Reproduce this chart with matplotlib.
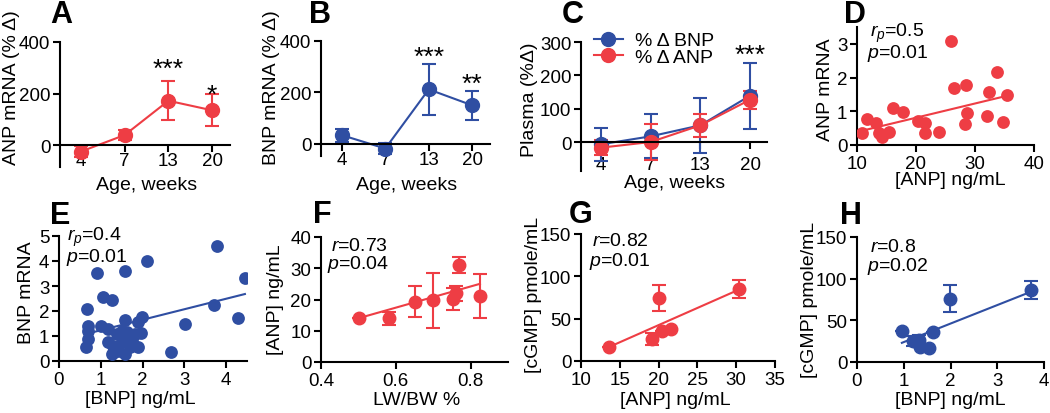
import numpy as np
import matplotlib ; matplotlib.use('Agg')
from matplotlib import pyplot as plt
from matplotlib.lines import Line2D

plt.rcParams['font.family'] = ['Liberation Sans', 'DejaVu Sans']
plt.rcParams['font.size'] = 13
plt.rcParams['mathtext.fontset'] = 'custom'
plt.rcParams['mathtext.it'] = 'Liberation Sans:italic'
plt.rcParams['mathtext.rm'] = 'Liberation Sans'
plt.rcParams['axes.linewidth'] = 1.5
for a in ('xtick', 'ytick'):
    plt.rcParams[a + '.major.width'] = 1.5
    plt.rcParams[a + '.major.size'] = 5
    plt.rcParams[a + '.major.pad'] = 2
    plt.rcParams[a + '.labelsize'] = 13.5

RED = '#EE3D44'
BLUE = '#2F4EA2'

# ---- data ----
weeks = ['4', '7', '13', '20']
anp_mrna = [-25, 39, 172, 135]
anp_mrna_err = [20, 19, 76, 62]
bnp_mrna = [34, -18, 212, 150]
bnp_mrna_err = [25, 20, 99, 57]
plasma_bnp = [-7, 17, 50, 139]
plasma_bnp_err = [49, 66, 82, 99]
plasma_anp = [-17, 0, 50, 127]
plasma_anp_err = [22, 53, 35, 27]

# D: plasma ANP vs ANP mRNA
d_anp = [10.9, 11.7, 13.3, 13.7, 14.2, 15.5, 16.1, 17.8, 20.4, 21.6, 21.6, 23.9,
         25.9, 26.4, 28.4, 28.6, 28.3, 32.1, 32.3, 33.7, 34.8, 35.4]
d_mrna = [0.35, 0.78, 0.65, 0.35, 0.25, 0.39, 1.11, 0.99, 0.72, 0.65, 0.35, 0.39,
          3.07, 1.70, 1.78, 0.94, 0.63, 0.86, 1.58, 2.17, 0.69, 1.49]
fit_d = (0.0422, -0.035)

# E: plasma BNP vs BNP mRNA
e_bnp = [0.92, 1.58, 2.10, 3.78, 4.45, 0.68, 1.06, 1.26, 3.72, 4.28, 3.02, 2.69,
         0.70, 0.70, 0.70, 0.65, 1.00, 1.17, 1.58, 1.98, 1.90, 1.50, 1.62, 1.38,
         1.82, 1.96, 1.18, 1.30, 1.50, 1.74, 1.90, 1.42, 1.58, 1.26, 1.70]
e_mrna = [3.51, 3.60, 4.00, 4.60, 3.32, 2.10, 2.55, 2.45, 2.23, 1.73, 1.47, 0.36,
          1.41, 1.21, 0.88, 0.55, 1.41, 1.28, 1.65, 1.75, 1.55, 1.21, 1.15, 1.08,
          1.08, 1.11, 0.75, 0.61, 0.75, 0.81, 0.55, 0.41, 0.28, 0.28, 0.55]
fit_e = (0.42, 0.81)

# F: LW/BW vs plasma ANP
f_lwbw = [0.502, 0.582, 0.652, 0.700, 0.752, 0.762, 0.770, 0.825]
f_anp = [14.0, 14.0, 19.3, 19.8, 20.2, 22.0, 31.0, 21.2]
f_err = [0.0, 2.0, 5.0, 8.8, 3.5, 2.4, 2.5, 7.0]
fit_f = (33.9, -2.95)

# G: plasma ANP vs cGMP
g_anp = [13.6, 19.2, 20.4, 21.6, 20.1, 30.4]
g_cgmp = [16.1, 25.5, 35.7, 37.7, 74.2, 84.8]
g_err = [0.0, 7.0, 0.0, 0.0, 15.7, 10.8]
fit_g = (4.05, -38.6)

# H: plasma BNP vs cGMP
h_bnp = [0.96, 1.63, 1.20, 1.33, 1.35, 1.53, 1.99, 3.72]
h_cgmp = [37.4, 36.2, 25.0, 27.0, 17.5, 16.3, 76.0, 86.3]
h_err = [0.0, 0.0, 6.0, 6.0, 0.0, 0.0, 16.0, 10.5]
fit_h = (22.2, 1.7)

W, H = 1050, 414
fig = plt.figure(figsize=(W / 100, H / 100), dpi=100)


def add_ax(l, t, r, b):
    ax = fig.add_axes([l / W, 1 - b / H, (r - l) / W, (b - t) / H])
    ax.spines['top'].set_visible(False)
    ax.spines['right'].set_visible(False)
    ax.patch.set_alpha(0)
    return ax


def ftext(x, y, s, **kw):
    fig.text(x / W, 1 - y / H, s, **kw)


def panel_label(x, y, s):
    ftext(x, y, s, ha='center', va='center', fontsize=22, fontweight='bold')


def ylab(x, y, s):
    ftext(x, y, s, rotation=90, ha='center', va='center', fontsize=14)


def xlab(x, y, s):
    ftext(x, y, s, ha='center', va='center', fontsize=14)


def stat(x, y, s):
    ftext(x, y, s, ha='left', va='center', fontsize=14)


def time_course(ax, ylo, yhi, yticks):
    ax.spines['bottom'].set_position(('data', 0))
    ax.set_xlim(-0.48, 3.41)
    ax.set_ylim(ylo, yhi)
    ax.set_xticks(range(4))
    ax.set_xticklabels(weeks)
    ax.set_yticks(yticks)


def fit_line(ax, xs, fit, color):
    xx = np.array([min(xs), max(xs)])
    ax.plot(xx, fit[0] * xx + fit[1], color=color, lw=1.5, zorder=2)


ebkw = dict(marker='o', lw=1.5, elinewidth=1.5, capsize=5, capthick=1.5)
pos = np.arange(4)

# ---- A ----
ax = add_ax(60, 43, 230, 168)
time_course(ax, -85, 400, [0, 200, 400])
ax.tick_params(axis='x', pad=0)
ax.errorbar(pos, anp_mrna, yerr=anp_mrna_err, color=RED, ms=10, **ebkw)
ax.text(2, 296, '***', ha='center', va='center', fontsize=19)
ax.text(3, 196, '*', ha='center', va='center', fontsize=19)
panel_label(61, 15, 'A')
ylab(12, 88, 'ANP mRNA (% Δ)')
xlab(147, 186, 'Age, weeks')

# ---- B ----
ax = add_ax(321, 42, 490, 157)
time_course(ax, -47, 400, [0, 200, 400])
ax.tick_params(axis='x', pad=0)
ax.errorbar(pos, bnp_mrna, yerr=bnp_mrna_err, color=BLUE, ms=10, **ebkw)
ax.text(2, 340, '***', ha='center', va='center', fontsize=19)
ax.text(3, 235, '**', ha='center', va='center', fontsize=19)
panel_label(320, 15, 'B')
ylab(272, 88, 'BNP mRNA (% Δ)')
xlab(407, 186, 'Age, weeks')

# ---- C ----
ax = add_ax(581, 43, 767, 172)
time_course(ax, -87, 300, [0, 100, 200, 300])
ax.set_xlim(-0.4, 3.34)
ax.tick_params(axis='x', pad=5)
ax.errorbar(pos, plasma_bnp, yerr=plasma_bnp_err, color=BLUE, ms=10, **ebkw)
ax.errorbar(pos, plasma_anp, yerr=plasma_anp_err, color=RED, ms=10, **ebkw)
ax.text(3, 262, '***', ha='center', va='center', fontsize=19)
handles = [Line2D([], [], color=BLUE, marker='o', ms=10, lw=1.5),
           Line2D([], [], color=RED, marker='o', ms=10, lw=1.5)]
fig.legend(handles, ['% Δ BNP', '% Δ ANP'], loc='upper left',
           bbox_to_anchor=(586 / W, 1 - 25 / H), frameon=False, fontsize=14,
           handlelength=1.5, handletextpad=0.6, labelspacing=-0.05, borderaxespad=0)
panel_label(573, 15, 'C')
ylab(530, 100, 'Plasma (%Δ)')
xlab(675, 184, 'Age, weeks')

# ---- D ----
ax = add_ax(857, 28, 1034, 146)
ax.set_xlim(10, 40)
ax.set_ylim(0, 3.5)
ax.set_xticks([10, 20, 30, 40])
ax.set_yticks([0, 1, 2, 3])
fit_line(ax, d_anp, fit_d, RED)
ax.scatter(d_anp, d_mrna, s=85, color=RED, zorder=3, linewidths=0)
panel_label(855, 15, 'D')
stat(870, 33, r'$r_p$=0.5')
stat(867, 53, r'$p$=0.01')
ylab(826, 90, 'ANP mRNA')
xlab(950, 181, '[ANP] ng/mL')

# ---- E ----
ax = add_ax(59, 237, 247, 362)
ax.set_xlim(0, 4.5)
ax.set_ylim(0, 5)
ax.set_xticks([0, 1, 2, 3, 4])
ax.set_yticks([0, 1, 2, 3, 4, 5])
fit_line(ax, e_bnp, fit_e, BLUE)
ax.scatter(e_bnp, e_mrna, s=85, color=BLUE, zorder=3, linewidths=0)
panel_label(60, 216, 'E')
stat(67, 237, r'$r_p$=0.4')
stat(66, 258, r'$p$=0.01')
ylab(27, 293, 'BNP mRNA')
xlab(140, 400, '[BNP] ng/mL')

# ---- F ----
ax = add_ax(321, 238, 508, 363)
ax.set_xlim(0.4, 0.9)
ax.set_ylim(0, 40)
ax.set_xticks([0.4, 0.6, 0.8])
ax.set_yticks([0, 10, 20, 30, 40])
fit_line(ax, f_lwbw, fit_f, RED)
ax.errorbar(f_lwbw, f_anp, yerr=f_err, color=RED, ms=9, ls='none', **ebkw)
panel_label(322, 215, 'F')
stat(331, 247, r'$r$=0.73')
stat(327, 265, r'$p$=0.04')
ylab(276, 300, '[ANP] ng/mL')
xlab(417, 401, 'LW/BW %')

# ---- G ----
ax = add_ax(581, 235, 775, 362)
ax.set_xlim(10, 35)
ax.set_ylim(0, 150)
ax.set_xticks([10, 15, 20, 25, 30, 35])
ax.set_yticks([0, 50, 100, 150])
fit_line(ax, g_anp, fit_g, RED)
ax.errorbar(g_anp, g_cgmp, yerr=g_err, color=RED, ms=9, ls='none', **ebkw)
panel_label(581, 215, 'G')
stat(592, 242, r'$r$=0.82')
stat(589, 261, r'$p$=0.01')
ylab(534, 295, '[cGMP] pmole/mL')
xlab(675, 401, '[ANP] ng/mL')

# ---- H ----
ax = add_ax(857, 238, 1044, 363)
ax.set_xlim(0, 4)
ax.set_ylim(0, 150)
ax.set_xticks([0, 1, 2, 3, 4])
ax.set_yticks([0, 50, 100, 150])
fit_line(ax, h_bnp, fit_h, BLUE)
ax.errorbar(h_bnp, h_cgmp, yerr=h_err, color=BLUE, ms=9, ls='none', **ebkw)
panel_label(851, 216, 'H')
stat(870, 248, r'$r$=0.8')
stat(867, 267, r'$p$=0.02')
ylab(810, 300, '[cGMP] pmole/mL')
xlab(950, 401, '[BNP] ng/mL')

plt.savefig('out.png', dpi=100)
